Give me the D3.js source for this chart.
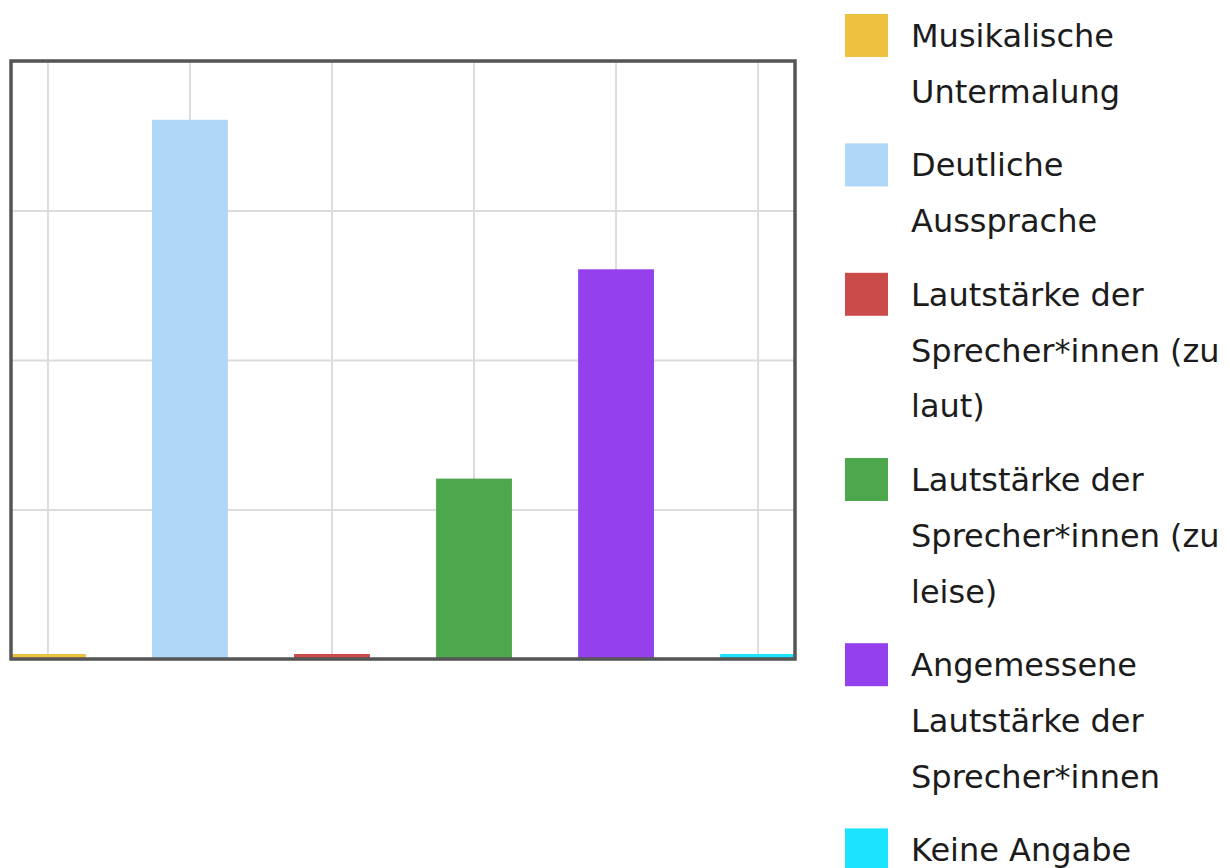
<!DOCTYPE html>
<html lang="de">
<head>
<meta charset="utf-8">
<title>Bewertung der Tonspur</title>
<script src="https://cdn.jsdelivr.net/npm/d3@7"></script>
<style>
  html, body { margin: 0; padding: 0; background: #ffffff; }
  svg { display: block; }
  .grid line { stroke: #dcdcdc; stroke-width: 2; }
  .grid .domain { display: none; }
  .legend text { font-family: "DejaVu Sans", Verdana, sans-serif; font-size: 32px; fill: #1c1c1c; }
</style>
</head>
<body>
<svg id="chart" width="1230" height="868"></svg>
<script>
// Antwortkategorien und Anzahl der Nennungen
const categories = [
  "Musikalische Untermalung",
  "Deutliche Aussprache",
  "Lautstärke der Sprecher*innen (zu laut)",
  "Lautstärke der Sprecher*innen (zu leise)",
  "Angemessene Lautstärke der Sprecher*innen",
  "Keine Angabe"
];
const counts = [0, 18, 0, 6, 13, 0];
const colors = ["#edc240", "#afd8f8", "#cb4b4b", "#4da74d", "#9440ed", "#1ce4ff"];
const yTicks = [0, 5, 10, 15, 20];

const svg = d3.select("#chart");
const plot = { left: 11, top: 61, right: 795, bottom: 659 };
const plotW = plot.right - plot.left;
const plotH = plot.bottom - plot.top;

const x = d3.scaleBand()
  .domain(categories)
  .range([plot.left, plot.right])
  .paddingInner(0.48)
  .paddingOuter(0);

const y = d3.scaleLinear()
  .domain([0, d3.max(yTicks)])
  .range([plot.bottom, plot.top]);

// Gitterlinien (ohne Beschriftung)
svg.append("g")
  .attr("class", "grid")
  .attr("transform", `translate(${plot.left},0)`)
  .call(d3.axisLeft(y).tickValues(yTicks).tickSize(-plotW).tickFormat(""));

svg.append("g")
  .attr("class", "grid")
  .attr("transform", `translate(0,${plot.bottom})`)
  .call(d3.axisBottom(x).tickSize(-plotH).tickFormat(""));

// Balken; Nullwerte bleiben als schmale Linie an der Grundlinie sichtbar
const minH = 4;
svg.append("g")
  .selectAll("rect")
  .data(categories)
  .join("rect")
  .attr("x", d => x(d))
  .attr("width", x.bandwidth())
  .attr("y", (d, i) => Math.min(y(counts[i]), y(0) - minH))
  .attr("height", (d, i) => Math.max(y(0) - y(counts[i]), minH))
  .attr("fill", (d, i) => colors[i])
  .attr("stroke", (d, i) => colors[i])
  .attr("stroke-width", 2);

// Rahmen des Diagrammbereichs
svg.append("rect")
  .attr("x", plot.left)
  .attr("y", plot.top)
  .attr("width", plotW)
  .attr("height", plotH)
  .attr("fill", "none")
  .attr("stroke", "#555555")
  .attr("stroke-width", 3.5);

// Legende mit Zeilenumbruch
const legend = svg.append("g").attr("class", "legend");
const textX = 911, swatchX = 845, swatchSize = 43;
const lineStep = 55.8, itemGap = 73.6, maxTextW = 318;

function wrapWords(label) {
  const probe = legend.append("text");
  const words = label.split(" ");
  const lines = [];
  let cur = "";
  words.forEach(w => {
    const trial = cur ? cur + " " + w : w;
    probe.text(trial);
    if (cur && probe.node().getComputedTextLength() > maxTextW) {
      lines.push(cur);
      cur = w;
    } else {
      cur = trial;
    }
  });
  if (cur) lines.push(cur);
  probe.remove();
  return lines;
}

let baseline = 47;
categories.forEach((label, i) => {
  const lines = wrapWords(label);
  legend.append("rect")
    .attr("x", swatchX)
    .attr("y", baseline - 33)
    .attr("width", swatchSize)
    .attr("height", swatchSize)
    .attr("fill", colors[i]);
  const t = legend.append("text").attr("x", textX).attr("y", baseline);
  lines.forEach((ln, j) => {
    t.append("tspan")
      .attr("x", textX)
      .attr("y", baseline + j * lineStep)
      .text(ln);
  });
  baseline += (lines.length - 1) * lineStep + itemGap;
});
</script>
</body>
</html>
